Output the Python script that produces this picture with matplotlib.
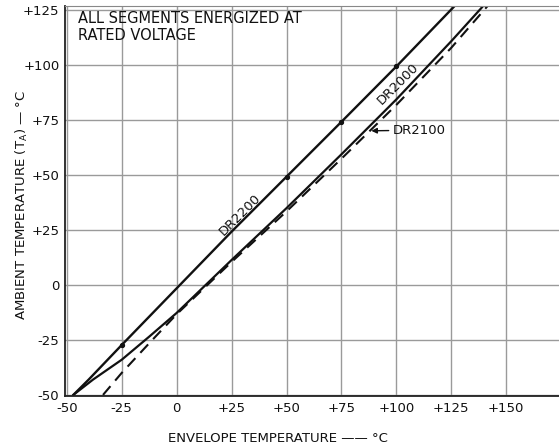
import matplotlib
matplotlib.use("Agg")
import matplotlib.pyplot as plt

# ---- data ----
dr2200_x = [-47, -40, -25, 0, 25, 50, 75, 100, 126.5]
dr2200_y = [-50, -43, -27.3, -1.5, 24.3, 49.3, 74.3, 99.5, 127]

dr2000_x = [-47, -38, -25, -12.5, 0, 25, 50, 75, 100, 125, 139.5]
dr2000_y = [-50, -43, -34, -23.5, -12.7, 11.4, 35, 59.5, 84.5, 111, 127]

dr2100_x = [-33.5, -25, -12.5, 0, 25, 50, 75, 100, 125, 141.5]
dr2100_y = [-50, -40, -26.5, -13.3, 10.5, 33.5, 57.5, 82, 108, 127]

marker_x = [-25, 50, 75, 100]
marker_y = [-27.3, 49.3, 74.3, 99.5]

x_ticks = [-50, -25, 0, 25, 50, 75, 100, 125, 150]
x_labels = ["-50", "-25", "0", "+25", "+50", "+75", "+100", "+125", "+150"]
y_ticks = [-50, -25, 0, 25, 50, 75, 100, 125]
y_labels = ["-50", "-25", "0", "+25", "+50", "+75", "+100", "+125"]

fig = plt.figure(figsize=(5.59, 4.45), dpi=100)
ax = fig.add_axes([65 / 559, 1 - 396 / 445, 1 - 65 / 559, (396 - 6) / 445])

ax.set_xlim(-50.8, 174)
ax.set_ylim(-50.5, 127)

ax.set_xticks(x_ticks)
ax.set_xticklabels(x_labels)
ax.set_yticks(y_ticks)
ax.set_yticklabels(y_labels)
ax.tick_params(length=0, labelsize=9.5, pad=4, colors="#111111")
ax.grid(True, color="#9a9a9a", linewidth=1.0)
ax.set_axisbelow(True)

for s in ["left", "bottom"]:
    ax.spines[s].set_color("#222222")
    ax.spines[s].set_linewidth(1.3)
ax.spines["top"].set_color("#888888")
ax.spines["right"].set_visible(False)

ax.plot(dr2200_x, dr2200_y, color="#111111", lw=1.7, solid_capstyle="round")
ax.plot(marker_x, marker_y, linestyle="none", marker="o", ms=2.8, color="#111111")
ax.plot(dr2000_x, dr2000_y, color="#111111", lw=1.6)
ax.plot(dr2100_x, dr2100_y, color="#111111", lw=1.5, dashes=(5.5, 3.5))

ax.text(-45, 124.5, "ALL SEGMENTS ENERGIZED AT\nRATED VOLTAGE", fontsize=10.5,
        va="top", ha="left", linespacing=1.15, color="#111111")

ax.text(28.8, 31.8, "DR2200", rotation=45, fontsize=9.5, ha="center", va="center",
        rotation_mode="anchor", color="#111111")
ax.text(100.7, 91.7, "DR2000", rotation=45, fontsize=9.5, ha="center", va="center",
        rotation_mode="anchor", color="#111111")
ax.annotate("DR2100", xy=(88.6, 70.2), xytext=(98.4, 70.5), fontsize=9.5,
            va="center", ha="left", color="#111111",
            arrowprops=dict(arrowstyle="-|>", color="#111111", lw=1.0,
                            mutation_scale=8, shrinkA=1, shrinkB=0))

fig.text(278 / 559, 1 - 438 / 445, "ENVELOPE TEMPERATURE —— °C", fontsize=9.5,
         ha="center", va="center", color="#111111")
fig.text(22 / 559, 1 - 205 / 445, "AMBIENT TEMPERATURE (T$_\\mathregular{A}$) — °C",
         fontsize=9.5, rotation=90, ha="center", va="center", color="#111111")

fig.savefig("out.png", dpi=100)
